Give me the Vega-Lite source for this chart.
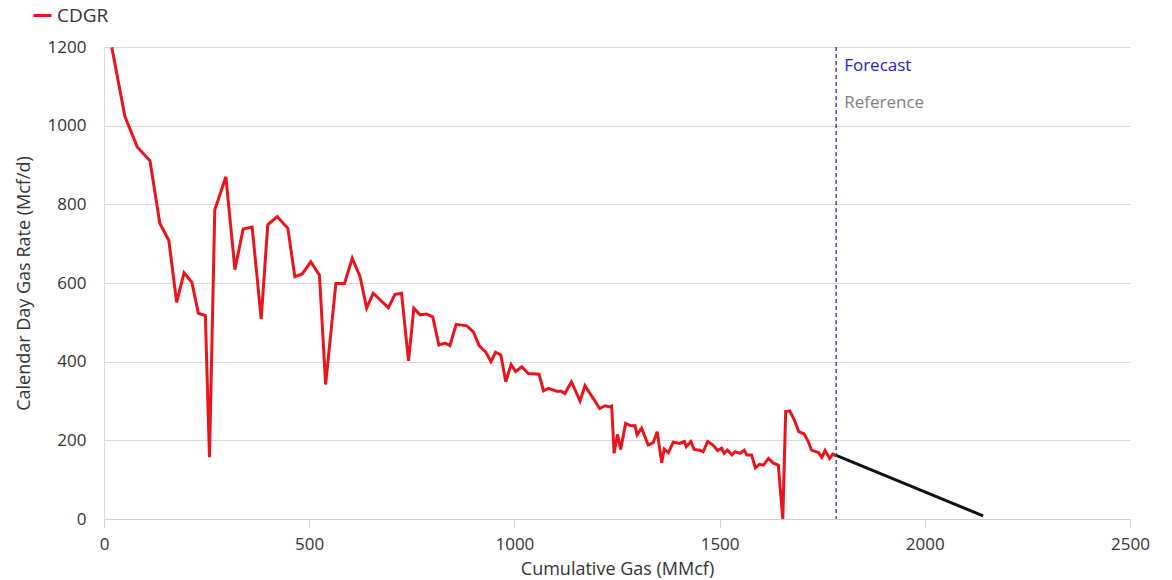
{
  "$schema": "https://vega.github.io/schema/vega-lite/v6.json",
  "width": 1026,
  "height": 472,
  "autosize": {"type": "none"},
  "padding": {"left": 104, "top": 47, "right": 42, "bottom": 61},
  "background": "white",
  "config": {
    "view": {"stroke": null},
    "font": "Open Sans",
    "axis": {"labelFont": "Open Sans", "titleFont": "Open Sans", "labelColor": "#333333", "titleColor": "#333333", "titleFontWeight": "normal"}
  },
  "datasets": {
    "cdgr": [
      {"cum": 19, "rate": 1199}, {"cum": 51, "rate": 1023}, {"cum": 81, "rate": 946}, {"cum": 112, "rate": 911},
      {"cum": 136, "rate": 752}, {"cum": 158, "rate": 708}, {"cum": 177, "rate": 551}, {"cum": 195, "rate": 626},
      {"cum": 214, "rate": 602}, {"cum": 230, "rate": 523}, {"cum": 247, "rate": 517}, {"cum": 257, "rate": 157},
      {"cum": 270, "rate": 786}, {"cum": 297, "rate": 870}, {"cum": 319, "rate": 634}, {"cum": 339, "rate": 737},
      {"cum": 361, "rate": 742}, {"cum": 383, "rate": 508}, {"cum": 399, "rate": 748}, {"cum": 422, "rate": 769},
      {"cum": 448, "rate": 739}, {"cum": 465, "rate": 616}, {"cum": 483, "rate": 623}, {"cum": 504, "rate": 654},
      {"cum": 525, "rate": 620}, {"cum": 540, "rate": 342}, {"cum": 565, "rate": 599}, {"cum": 586, "rate": 599},
      {"cum": 605, "rate": 663}, {"cum": 624, "rate": 616}, {"cum": 640, "rate": 536}, {"cum": 656, "rate": 574},
      {"cum": 693, "rate": 537}, {"cum": 709, "rate": 571}, {"cum": 725, "rate": 574}, {"cum": 742, "rate": 402},
      {"cum": 755, "rate": 536}, {"cum": 770, "rate": 519}, {"cum": 786, "rate": 521}, {"cum": 801, "rate": 514},
      {"cum": 816, "rate": 442}, {"cum": 831, "rate": 447}, {"cum": 843, "rate": 441}, {"cum": 858, "rate": 495},
      {"cum": 884, "rate": 491}, {"cum": 900, "rate": 476}, {"cum": 914, "rate": 441}, {"cum": 930, "rate": 425},
      {"cum": 943, "rate": 400}, {"cum": 954, "rate": 424}, {"cum": 967, "rate": 417}, {"cum": 979, "rate": 349},
      {"cum": 992, "rate": 393}, {"cum": 1003, "rate": 375}, {"cum": 1018, "rate": 387}, {"cum": 1034, "rate": 370},
      {"cum": 1060, "rate": 368}, {"cum": 1071, "rate": 326}, {"cum": 1083, "rate": 332}, {"cum": 1103, "rate": 325},
      {"cum": 1114, "rate": 325}, {"cum": 1123, "rate": 319}, {"cum": 1139, "rate": 349}, {"cum": 1160, "rate": 300},
      {"cum": 1172, "rate": 339}, {"cum": 1208, "rate": 281}, {"cum": 1221, "rate": 288}, {"cum": 1233, "rate": 285},
      {"cum": 1237, "rate": 287}, {"cum": 1243, "rate": 167}, {"cum": 1251, "rate": 215}, {"cum": 1259, "rate": 177},
      {"cum": 1271, "rate": 243}, {"cum": 1284, "rate": 237}, {"cum": 1294, "rate": 237}, {"cum": 1299, "rate": 214},
      {"cum": 1310, "rate": 231}, {"cum": 1326, "rate": 188}, {"cum": 1338, "rate": 194}, {"cum": 1348, "rate": 222},
      {"cum": 1359, "rate": 143}, {"cum": 1365, "rate": 178}, {"cum": 1375, "rate": 169}, {"cum": 1387, "rate": 195},
      {"cum": 1403, "rate": 192}, {"cum": 1414, "rate": 197}, {"cum": 1419, "rate": 184}, {"cum": 1430, "rate": 197},
      {"cum": 1438, "rate": 177}, {"cum": 1452, "rate": 175}, {"cum": 1460, "rate": 171}, {"cum": 1471, "rate": 197},
      {"cum": 1484, "rate": 188}, {"cum": 1495, "rate": 174}, {"cum": 1505, "rate": 180}, {"cum": 1511, "rate": 167},
      {"cum": 1519, "rate": 175}, {"cum": 1530, "rate": 163}, {"cum": 1538, "rate": 171}, {"cum": 1550, "rate": 167},
      {"cum": 1560, "rate": 175}, {"cum": 1566, "rate": 163}, {"cum": 1578, "rate": 163}, {"cum": 1587, "rate": 130},
      {"cum": 1597, "rate": 139}, {"cum": 1607, "rate": 137}, {"cum": 1619, "rate": 154}, {"cum": 1631, "rate": 142},
      {"cum": 1643, "rate": 137}, {"cum": 1654, "rate": 0}, {"cum": 1661, "rate": 273}, {"cum": 1671, "rate": 275},
      {"cum": 1682, "rate": 252}, {"cum": 1693, "rate": 222}, {"cum": 1706, "rate": 216}, {"cum": 1716, "rate": 197},
      {"cum": 1724, "rate": 175}, {"cum": 1741, "rate": 169}, {"cum": 1749, "rate": 157}, {"cum": 1757, "rate": 174},
      {"cum": 1768, "rate": 154}, {"cum": 1776, "rate": 165}, {"cum": 1784, "rate": 160}
    ],
    "forecast": [
      {"cum": 1784, "rate": 162}, {"cum": 2142, "rate": 8}
    ],
    "markers": [
      {"cum": 1784, "label_forecast": "Forecast", "label_reference": "Reference", "yf": 1152, "yr": 1058}
    ]
  },
  "layer": [
    {
      "data": {"name": "cdgr"},
      "transform": [{"calculate": "'CDGR'", "as": "series"}],
      "mark": {"type": "line", "strokeWidth": 3, "interpolate": "linear"},
      "encoding": {
        "x": {
          "field": "cum", "type": "quantitative",
          "scale": {"domain": [0, 2500], "nice": false},
          "axis": {
            "title": "Cumulative Gas (MMcf)", "values": [0, 500, 1000, 1500, 2000, 2500], "format": "d",
            "grid": false, "domainColor": "#d0d0d0", "tickColor": "#d0d0d0", "tickSize": 8,
            "labelFontSize": 17, "labelPadding": 9, "titleFontSize": 18, "titlePadding": 8,
            "labelFlush": false
          }
        },
        "y": {
          "field": "rate", "type": "quantitative",
          "scale": {"domain": [0, 1200], "nice": false},
          "axis": {
            "title": "Calendar Day Gas Rate (Mcf/d)", "values": [0, 200, 400, 600, 800, 1000, 1200], "format": "d",
            "grid": true, "gridColor": "#d9d9d9", "gridWidth": 1.2, "domainColor": "#dcdcdc",
            "ticks": false, "labelFontSize": 17, "labelPadding": 18, "titleFontSize": 18, "titlePadding": 14
          }
        },
        "color": {
          "field": "series", "type": "nominal",
          "scale": {"domain": ["CDGR"], "range": ["#e8161c"]},
          "legend": {
            "title": null, "orient": "none", "legendX": -72, "legendY": -42,
            "symbolType": "stroke", "symbolStrokeWidth": 3, "symbolSize": 320,
            "labelFontSize": 19, "labelColor": "#333333", "labelFont": "Open Sans"
          }
        }
      }
    },
    {
      "data": {"name": "forecast"},
      "mark": {"type": "line", "strokeWidth": 3, "color": "#111111"},
      "encoding": {
        "x": {"field": "cum", "type": "quantitative"},
        "y": {"field": "rate", "type": "quantitative"}
      }
    },
    {
      "data": {"name": "markers"},
      "mark": {"type": "rule", "strokeDash": [4, 3], "color": "#2e2e80", "strokeWidth": 1.3},
      "encoding": {"x": {"field": "cum", "type": "quantitative"}}
    },
    {
      "data": {"name": "markers"},
      "mark": {"type": "text", "align": "left", "baseline": "middle", "dx": 8, "fontSize": 17, "color": "#2323c4", "font": "Open Sans"},
      "encoding": {"x": {"field": "cum", "type": "quantitative"}, "y": {"field": "yf", "type": "quantitative"}, "text": {"field": "label_forecast"}}
    },
    {
      "data": {"name": "markers"},
      "mark": {"type": "text", "align": "left", "baseline": "middle", "dx": 8, "fontSize": 17, "color": "#808080", "font": "Open Sans"},
      "encoding": {"x": {"field": "cum", "type": "quantitative"}, "y": {"field": "yr", "type": "quantitative"}, "text": {"field": "label_reference"}}
    }
  ]
}
